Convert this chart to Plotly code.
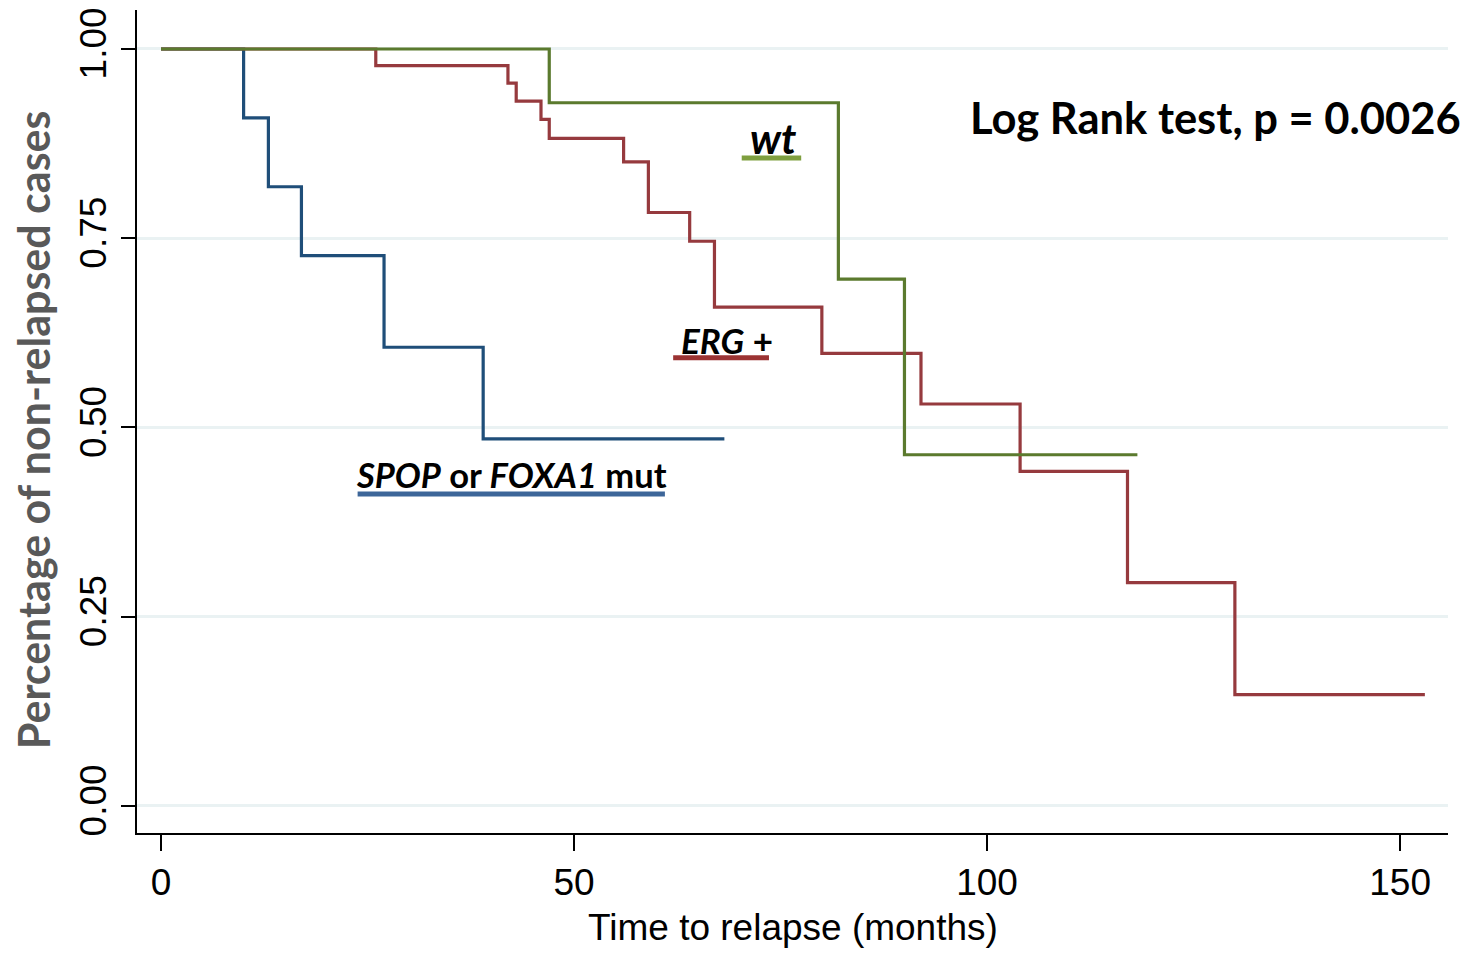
import plotly.graph_objects as go

# Kaplan-Meier step data (months, survival fraction)
spop_time = [0, 10, 13, 17, 27, 39, 68.2]
spop_surv = [1.0, 0.909, 0.818, 0.727, 0.606, 0.485, 0.485]

erg_time = [0, 26, 42, 43, 46, 47, 56, 59, 64, 67, 80, 92, 104, 117, 130, 153]
erg_surv = [1.0, 0.978, 0.955, 0.931, 0.907, 0.882, 0.851, 0.784, 0.746, 0.659,
            0.598, 0.531, 0.442, 0.295, 0.147, 0.147]

wt_time = [0, 47, 82, 90, 118.2]
wt_surv = [1.0, 0.929, 0.696, 0.464, 0.464]

x_ticks = [0, 50, 100, 150]
y_ticks = [0.0, 0.25, 0.5, 0.75, 1.0]
y_ticklabels = ["0.00", "0.25", "0.50", "0.75", "1.00"]

BLUE = "#1F4E79"
RED = "#963A3E"
GREEN = "#5B7A2E"
BLUE_BAR = "#3D6699"
RED_BAR = "#9B3333"
GREEN_BAR = "#7F9F3F"

fig = go.Figure()
fig.add_trace(go.Scatter(x=spop_time, y=spop_surv, mode="lines", line_shape="hv",
                         line=dict(color=BLUE, width=3.2), name="SPOP or FOXA1 mut"))
fig.add_trace(go.Scatter(x=erg_time, y=erg_surv, mode="lines", line_shape="hv",
                         line=dict(color=RED, width=3.2), name="ERG +"))
fig.add_trace(go.Scatter(x=wt_time, y=wt_surv, mode="lines", line_shape="hv",
                         line=dict(color=GREEN, width=3.2), name="wt"))

LBL = "Lato"
annos = [
    dict(x=127.6, y=0.910, text="<b>Log Rank test, p = 0.0026</b>", size=43.5),
    dict(x=74.1, y=0.882, text="<b><i>wt</i></b>", size=42),
    dict(x=68.5, y=0.615, text="<b><i>ERG</i> +</b>", size=35),
    dict(x=42.4, y=0.438, text="<b><i>SPOP</i> or <i>FOXA1</i> mut</b>", size=34.5),
]
for a in annos:
    fig.add_annotation(x=a["x"], y=a["y"], xref="x", yref="y", text=a["text"],
                       showarrow=False, xanchor="center", yanchor="middle",
                       font=dict(family=LBL, size=a["size"], color="black"))

bars = [
    (70.3, 77.5, 0.856, GREEN_BAR),
    (62.0, 73.6, 0.592, RED_BAR),
    (23.8, 61.0, 0.412, BLUE_BAR),
]
for x0, x1, yy, c in bars:
    fig.add_shape(type="line", x0=x0, x1=x1, y0=yy, y1=yy, xref="x", yref="y",
                  line=dict(color=c, width=5))

fig.add_annotation(x=-0.079, y=0.49, xref="paper", yref="paper",
                   text="<b>Percentage of non-relapsed cases</b>", textangle=-90,
                   showarrow=False, xanchor="center", yanchor="middle",
                   font=dict(family=LBL, size=43, color="#595959"))
fig.add_annotation(x=0.5, y=-0.115, xref="paper", yref="paper",
                   text="Time to relapse (months)", showarrow=False,
                   xanchor="center", yanchor="middle",
                   font=dict(family="Liberation Sans, Arial", size=37, color="black"))

fig.update_layout(
    width=1460, height=945,
    margin=dict(l=129, r=20, t=2, b=120, autoexpand=False),
    plot_bgcolor="white", paper_bgcolor="white",
    showlegend=False,
    font=dict(family="Liberation Sans, Arial", color="black"),
)
fig.update_xaxes(range=[-2.906, 155.8], tickvals=x_ticks, ticks="outside", ticklen=16,
                 tickwidth=2, tickcolor="black", showline=True, linecolor="black",
                 linewidth=2, showgrid=False, zeroline=False, automargin=False,
                 ticklabeloverflow="allow",
                 tickfont=dict(size=37, color="black"))
fig.update_yaxes(range=[-0.0357, 1.0515], tickvals=y_ticks, ticktext=y_ticklabels,
                 ticks="outside", ticklen=14, tickwidth=2, tickcolor="black",
                 showline=True, linecolor="black", linewidth=2, automargin=False,
                 ticklabeloverflow="allow",
                 showgrid=True, gridcolor="#EAF2F3", gridwidth=3, zeroline=False,
                 tickangle=-90, tickfont=dict(size=37, color="black"))

fig.write_html("out.html")
